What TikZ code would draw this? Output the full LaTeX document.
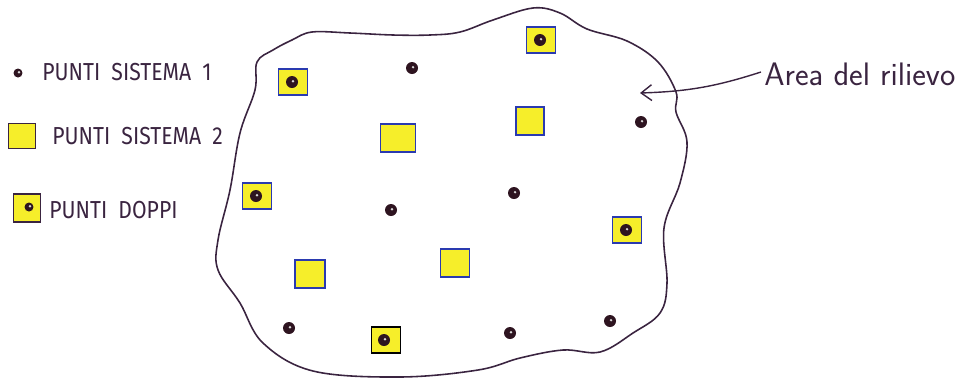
\documentclass[tikz,border=0pt]{standalone}
\usepackage{fontspec}
\usepackage{xcolor}
\newfontfamily\handfont{Fira Sans}
\usetikzlibrary{positioning, calc, arrows.meta}

\begin{document}
\begin{tikzpicture}[
  x=0.02cm, y=-0.02cm,
  >={Straight Barb[length=6pt,width=9pt]},
]

\definecolor{cInk}   {HTML}{3A2440}
\definecolor{cDot}   {HTML}{2E1420}
\definecolor{cYellow}{HTML}{F6EE2A}
\definecolor{cBlueP} {HTML}{2A3AB0}

\tikzset{
  sysone/.style={circle, fill=cDot, inner sep=0pt, minimum size=0.24cm,
    path picture={\fill[white!70!gray] ($(path picture bounding box.center)+(1,-0.8)$) circle (1.3);}},
  systwo/.style={draw=cBlueP, fill=cYellow, line width=0.7pt, inner sep=0pt,
    minimum width=0.6cm, minimum height=0.56cm},
  doppio/.style={systwo, minimum width=0.58cm, minimum height=0.52cm},
  legtext/.style={anchor=west, text=cInk, inner sep=0pt,
    font=\handfont\fontsize{14}{16}\selectfont},
}

% =====================================================================
% Area del rilievo (outline)
% =====================================================================
\draw[cInk, line width=0.9pt] plot[smooth cycle, tension=0.6] coordinates {
  (257,62) (273,50) (292,40) (312,32) (350,33) (393,35) (430,35) (460,32)
  (493,20) (533,8) (560,13) (587,29) (627,41) (658,62) (676,92) (676,112)
  (687,142) (680,183) (664,228) (667,283) (660,313) (633,333) (600,352)
  (563,350) (520,358) (478,370) (400,377) (313,371) (263,343) (240,303)
  (218,270) (218,240) (230,190) (240,133) (255,90)};

% =====================================================================
% Punti sistema 2 (yellow squares)
% =====================================================================
\foreach \x/\y/\w [count=\k] in {398/138/0.7, 530/121/0.56, 310/274/0.6, 455/263/0.58}{
  \node[systwo, minimum width=\w cm] (sq\k) at (\x,\y) {};
}

% =====================================================================
% Punti doppi (yellow square + dot)
% =====================================================================
\foreach \x/\y [count=\k] in {293/82, 541/40, 257/196, 627/230}{
  \node[doppio] (dp\k) at (\x,\y) {};
  \node[sysone] (dpdot\k) at (\x-1,\y) {};
}
% the one in the black frame
\node[doppio, draw=black, line width=1.1pt] (dp5) at (386,340) {};
\node[sysone] (dpdot5) at (384,340) {};

% =====================================================================
% Punti sistema 1 (dots)
% =====================================================================
\foreach \x/\y [count=\k] in {412/68, 641/122, 391/210, 514/193,
                             289/328, 510/333, 610/321}{
  \node[sysone] (pt\k) at (\x,\y) {};
}

% =====================================================================
% Legend
% =====================================================================
\node[sysone, minimum size=0.18cm] (legone) at (18,73) {};
\node[legtext] (legonetxt) at (42,72) {\scalebox{0.86}[1]{PUNTI\ \ SISTEMA\ \ 1}};

\node[systwo, draw=cInk, minimum width=0.54cm, minimum height=0.5cm] (legtwo) at (22,136) {};
\node[legtext] (legtwotxt) at (52,136) {\scalebox{0.86}[1]{PUNTI\ \ SISTEMA\ \ 2}};

\node[systwo, draw=cInk, minimum width=0.54cm, minimum height=0.56cm] (legdp) at (27,208) {};
\node[sysone, minimum size=0.18cm] (legdpdot) at (29,207) {};
\node[legtext] (legdptxt) at (49,210) {\scalebox{0.86}[1]{PUNTI\ \ DOPPI}};

% =====================================================================
% Label + arrow
% =====================================================================
\node[anchor=west, text=cInk, inner sep=0pt, font=\sffamily\fontsize{18.5}{21}\selectfont]
  (area) at (764,74) {Area del rilievo};
\coordinate (areaTip) at (640,93);
\draw[cInk, line width=0.8pt, ->] (area.west) ++(-3,-2) to[bend left=8] (areaTip);

\useasboundingbox (0,0) rectangle (979,377);
\end{tikzpicture}
\end{document}
